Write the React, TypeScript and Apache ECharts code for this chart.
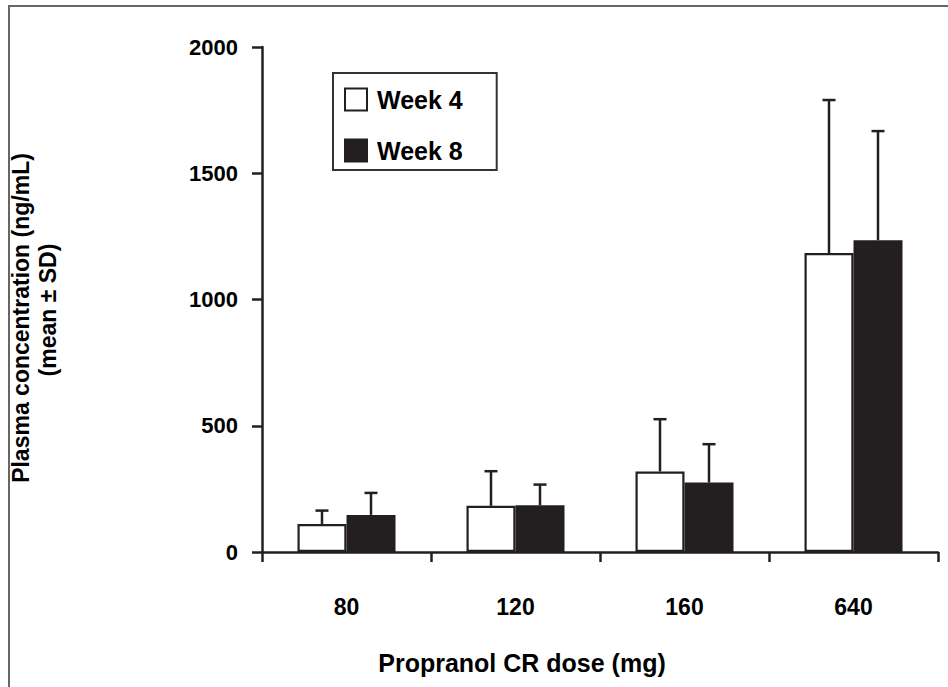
import React, { useEffect, useRef } from "react";
import * as echarts from "echarts";

const categories = ["80", "120", "160", "640"];
const week4Mean = [111, 183, 319, 1184];
const week4SD = [53, 137, 207, 606];
const week8Mean = [147, 185, 275, 1235];
const week8SD = [87, 82, 152, 432];
const yTicks = [0, 500, 1000, 1500, 2000];

const FONT = "'Liberation Sans', Arial, Helvetica, sans-serif";
const BAR_FRAC = 0.29;

function errorSeries(name: string, means: number[], sds: number[], side: number) {
  return {
    type: "custom",
    name: name + " SD",
    silent: true,
    z: 5,
    data: means.map((m, i) => [i, m, m + sds[i]]),
    renderItem: (params: any, api: any) => {
      const idx = api.value(0);
      const base = api.coord([idx, api.value(1)]);
      const top = api.coord([idx, api.value(2)]);
      const catW = api.size([1, 0])[0];
      const x = base[0] + side * catW * BAR_FRAC / 2;
      const capHalf = 6.5;
      const style = { stroke: "#231f20", lineWidth: 2.5, fill: "none" };
      return {
        type: "group",
        children: [
          { type: "line", shape: { x1: x, y1: base[1], x2: x, y2: top[1] }, style },
          { type: "line", shape: { x1: x - capHalf, y1: top[1], x2: x + capHalf, y2: top[1] }, style },
        ],
      };
    },
  };
}

export default function App() {
  const ref = useRef<HTMLDivElement>(null);
  useEffect(() => {
    if (!ref.current) return;
    const chart = echarts.init(ref.current, undefined, { renderer: "svg" });
    chart.setOption({
      animation: false,
      backgroundColor: "#ffffff",
      textStyle: { fontFamily: FONT },
      grid: { left: 262, right: 10, top: 47, bottom: 135, containLabel: false },
      legend: {
        orient: "vertical",
        left: 333,
        top: 73,
        data: ["Week 4", "Week 8"],
        itemWidth: 22,
        itemHeight: 22,
        itemGap: 26,
        padding: [14, 34, 7, 11],
        borderColor: "#333333",
        borderWidth: 2,
        icon: "rect",
        textStyle: {
          fontFamily: FONT,
          fontWeight: "bold",
          fontSize: 25,
          lineHeight: 22,
          color: "#000",
          padding: [0, 0, 0, 5],
        },
      },
      xAxis: {
        type: "category",
        data: categories,
        axisLine: { lineStyle: { color: "#231f20", width: 2.5 } },
        axisTick: { show: true, inside: false, length: 10, alignWithLabel: false, lineStyle: { color: "#231f20", width: 2.5 } },
        axisLabel: { margin: 43, fontFamily: FONT, fontWeight: "bold", fontSize: 23, color: "#000" },
        splitLine: { show: false },
      },
      yAxis: {
        type: "value",
        min: yTicks[0],
        max: yTicks[yTicks.length - 1],
        interval: 500,
        axisLine: { show: true, lineStyle: { color: "#231f20", width: 2.5 } },
        axisTick: { show: true, inside: false, length: 10, lineStyle: { color: "#231f20", width: 2.5 } },
        axisLabel: {
          margin: 24,
          fontFamily: FONT,
          fontWeight: "bold",
          fontSize: 22,
          color: "#000",
          formatter: (v: number) => String(v),
        },
        splitLine: { show: false },
      },
      series: [
        {
          type: "bar",
          name: "Week 4",
          data: week4Mean,
          barWidth: BAR_FRAC * 100 + "%",
          barGap: "0%",
          itemStyle: { color: "#ffffff", borderColor: "#231f20", borderWidth: 2.2 },
        },
        {
          type: "bar",
          name: "Week 8",
          data: week8Mean,
          barWidth: BAR_FRAC * 100 + "%",
          barGap: "0%",
          itemStyle: { color: "#231f20", borderColor: "#231f20", borderWidth: 2.2 },
        },
        errorSeries("Week 4", week4Mean, week4SD, -1),
        errorSeries("Week 8", week8Mean, week8SD, 1),
      ],
      graphic: [
        {
          type: "rect",
          shape: { x: 9, y: 6, width: 1000, height: 800 },
          style: { fill: "none", stroke: "#666666", lineWidth: 2 },
          silent: true,
        },
        {
          type: "text",
          x: 522,
          y: 663,
          style: {
            text: "Propranol CR dose (mg)",
            fontFamily: FONT,
            fontWeight: "bold",
            fontSize: 25,
            fill: "#000",
            textAlign: "center",
            textVerticalAlign: "middle",
          },
        },
        {
          type: "text",
          x: 21,
          y: 318,
          rotation: Math.PI / 2,
          style: {
            text: "Plasma concentration (ng/mL)",
            fontFamily: FONT,
            fontWeight: "bold",
            fontSize: 23,
            fill: "#000",
            textAlign: "center",
            textVerticalAlign: "middle",
          },
        },
        {
          type: "text",
          x: 48,
          y: 310,
          rotation: Math.PI / 2,
          style: {
            text: "(mean ± SD)",
            fontFamily: FONT,
            fontWeight: "bold",
            fontSize: 23,
            fill: "#000",
            textAlign: "center",
            textVerticalAlign: "middle",
          },
        },
      ],
    });
    return () => chart.dispose();
  }, []);
  return <div ref={ref} style={{ width: 948, height: 687, position: "absolute", left: 0, top: 0 }} />;
}
